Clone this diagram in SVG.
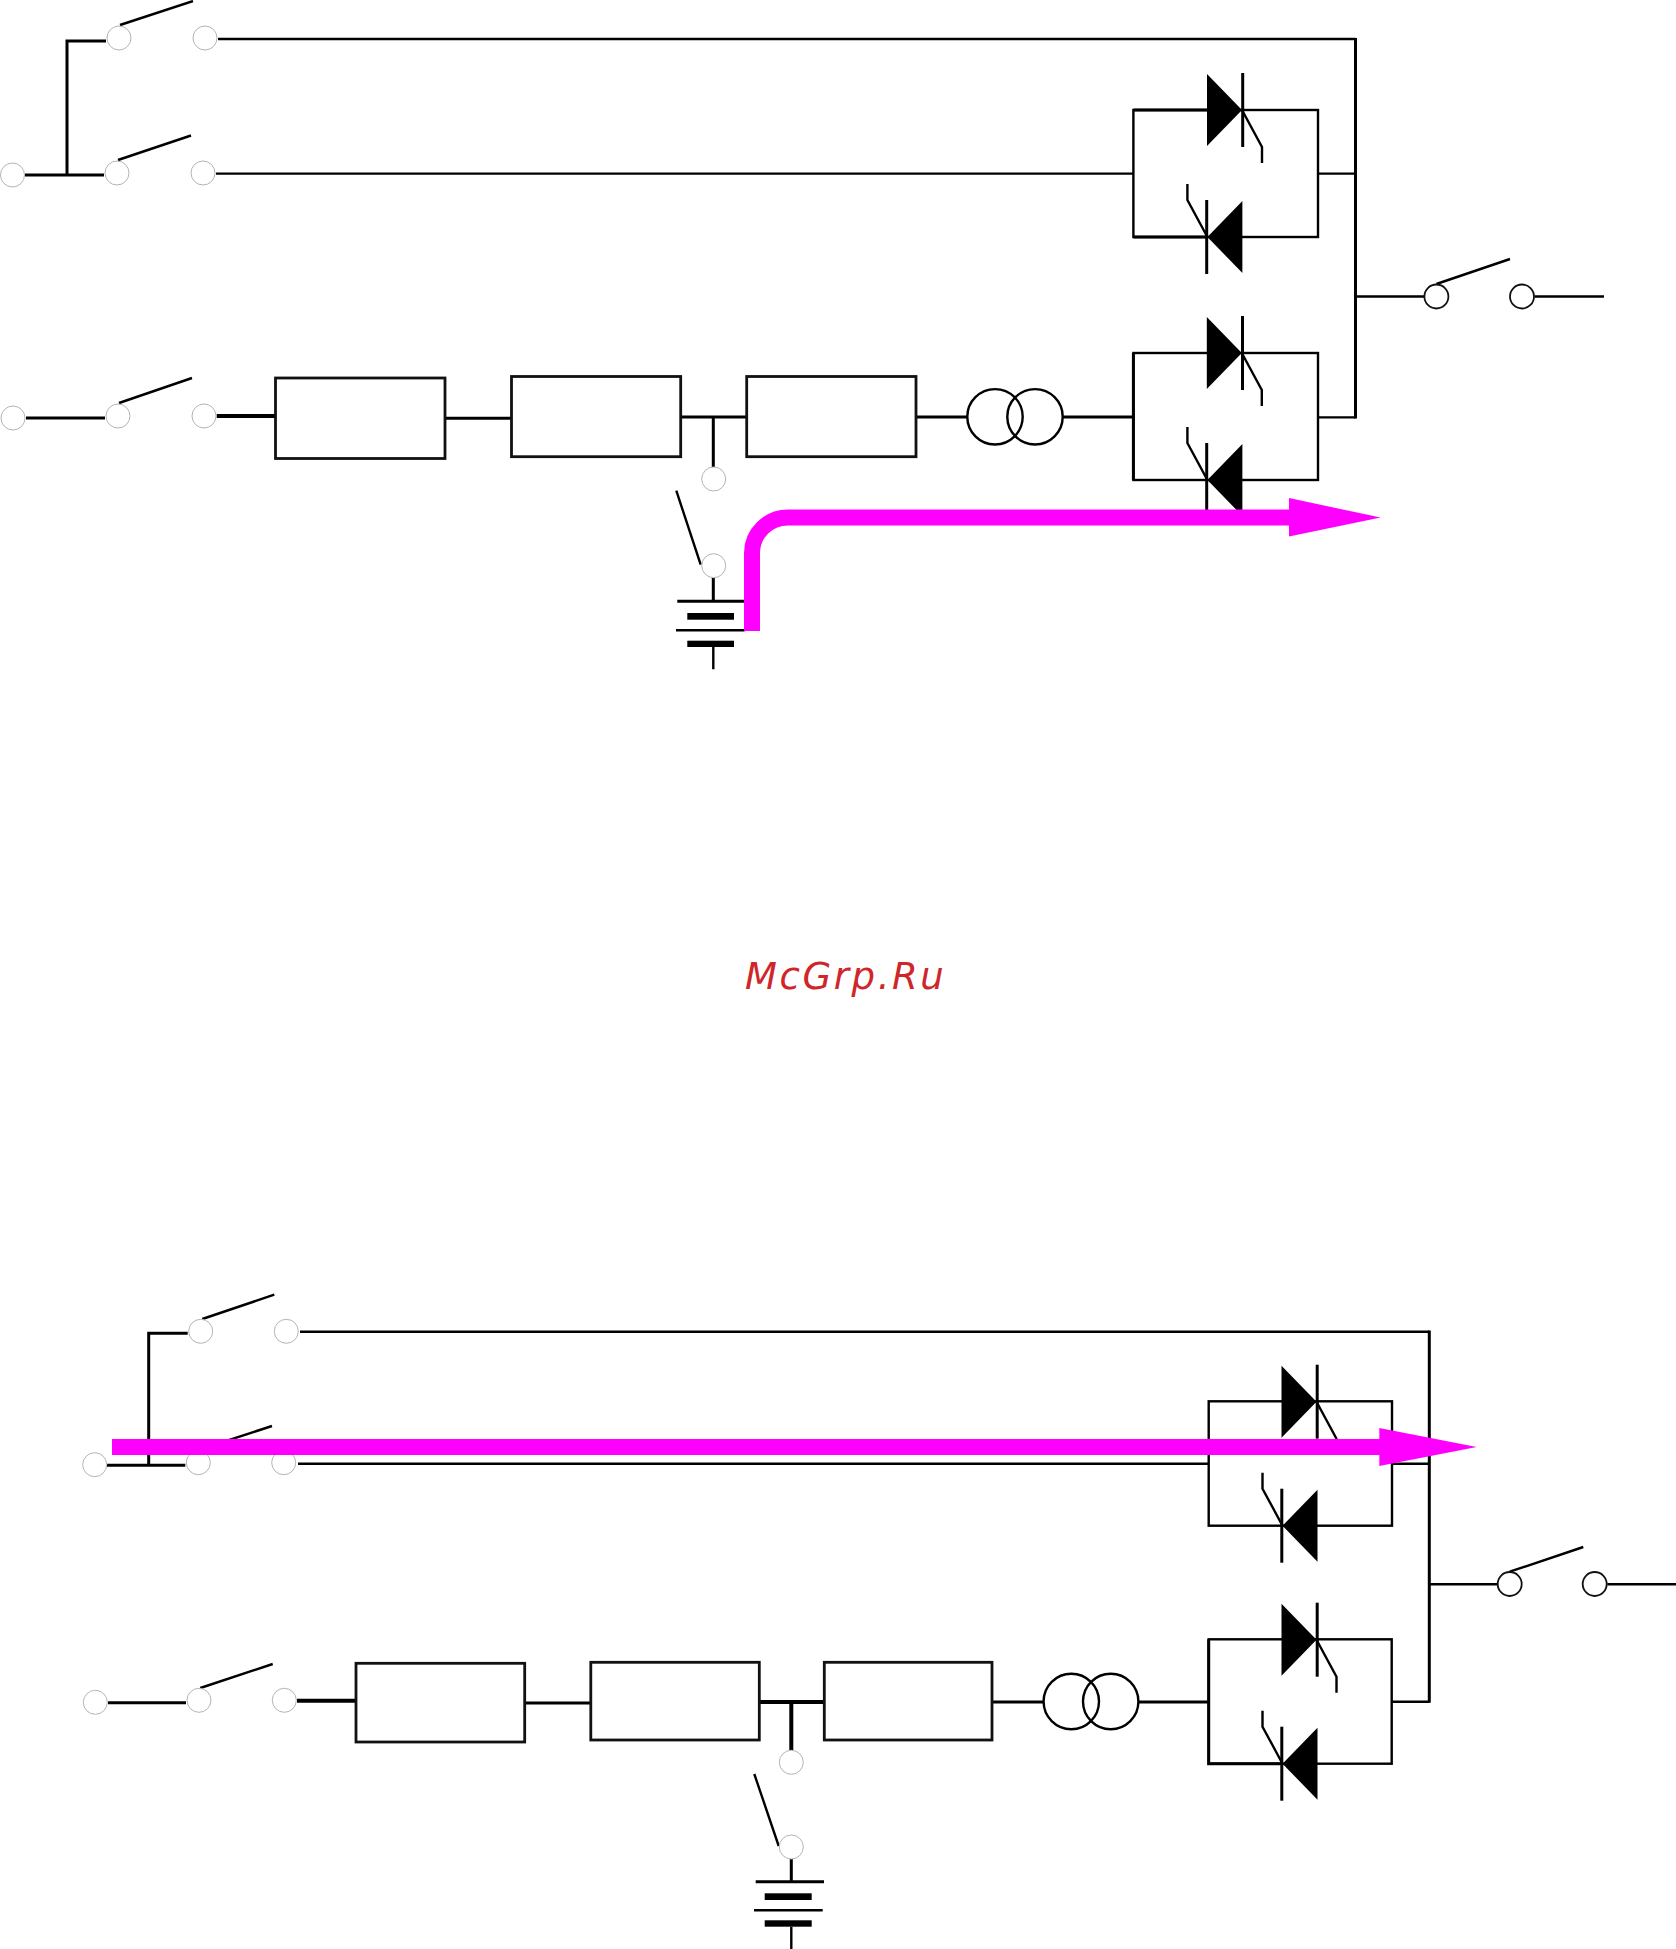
<svg xmlns="http://www.w3.org/2000/svg" xmlns:xlink="http://www.w3.org/1999/xlink" width="1676" height="1949" viewBox="0 0 1676 1949">
<style>
.w{fill:none;stroke:#000;stroke-width:2.4}
.t{fill:none;stroke:#000;stroke-width:3}
.h{fill:none;stroke:#000;stroke-width:4}
.box{fill:#fff;stroke:#111;stroke-width:2.8}
.pad{fill:#fff;stroke:#b4b4b4;stroke-width:1}
.out{fill:#fff;stroke:#111;stroke-width:1.8}
.fl{fill:none;stroke:#f0f;stroke-width:16}
.hd{fill:#f0f}
.bar{fill:#000}
.mark{font-family:"DejaVu Sans",sans-serif;font-style:oblique;font-size:37px;letter-spacing:2.6px;fill:#cf262b}
</style>
<defs>
<g id="thy"><polygon class="bar" points="-35,-36 -35,36 0,0"/><path class="t" d="M0.7,-37V37"/><path class="w" d="M0,0L20,37V53"/></g>
</defs>
<rect width="1676" height="1949" fill="#fff"/>
<g id="connectors">
<path class="t" d="M67,175V41H106M25,175H104"/>
<path class="w" d="M218,39H1355.5M216,173.6H1133M1318,173.6H1355.5M1318,417.4H1355.5M1356,296.5H1424M1534.5,296.5H1604"/>
<path class="t" d="M1355.5,38V418.5"/>
<path class="w" d="M120,25L193,1M118,160L191,135.5M119,403L192,378M1436.4,284L1510,259M700.7,564.7L676.3,490.7"/>
<path class="t" d="M26,418H105M446,418.3H511M681,417H746M713.3,417V467M713.3,578V601.3M677.3,601.3H744.3M916,417H967M1063,417H1133"/>
<path class="h" d="M216.7,416H275"/>
<path class="w" d="M676,630.3H744.7M713.3,647V669.3"/>
<rect class="bar" x="687.3" y="613" width="46.7" height="6.7"/>
<rect class="bar" x="687.3" y="640.7" width="46.7" height="6.3"/>
<path class="t" d="M148.7,1465.3V1333.3H187.7M107,1465.3H185.3"/>
<path class="w" d="M300,1331.7H1429.3M298,1463.7H1208.7M1392,1463.7H1429.3M1392,1701.7H1429.3M1430,1584.3H1497.3M1607.3,1584.3H1676"/>
<path class="t" d="M1429.3,1330.5V1702.8"/>
<path class="w" d="M202.3,1319L274.3,1294.7M200,1449.5L272,1426M200.3,1688L272.7,1664M1509.7,1571.7L1583.3,1547M778.7,1846L754.3,1774"/>
<path class="t" d="M108,1702.7H186M525,1703H590.4M791.3,1859V1881.7M755.7,1881.7H824M992,1702H1043.5M1138.5,1702H1208.7"/>
<path class="h" d="M297,1700.7H356M759.3,1702H824.3M791.3,1702V1750"/>
<path class="w" d="M754,1910.3H822.7M791.3,1926.7V1949"/>
<rect class="bar" x="764.7" y="1893.3" width="47" height="6.7"/>
<rect class="bar" x="764.7" y="1920.3" width="47" height="6.4"/>
</g>
<g id="top-pads">
<circle class="pad" cx="119" cy="38" r="12"/><circle class="pad" cx="205" cy="38" r="12"/>
<circle class="pad" cx="117" cy="173" r="12"/><circle class="pad" cx="203" cy="173" r="12"/>
<circle class="pad" cx="12.5" cy="175" r="12"/><circle class="pad" cx="13" cy="418" r="12"/>
<circle class="pad" cx="118" cy="416" r="12"/><circle class="pad" cx="204" cy="416" r="12"/>
<circle class="pad" cx="713.7" cy="479" r="12"/><circle class="pad" cx="713.7" cy="565.7" r="12"/>
<circle class="out" cx="1436.4" cy="296.5" r="12"/><circle class="out" cx="1522" cy="296.5" r="12"/>
</g>
<g id="top-blocks">
<rect class="box" x="275.5" y="378" width="169.5" height="80.5"/>
<rect class="box" x="511.5" y="376.5" width="169.2" height="80.2"/>
<rect class="box" x="746.7" y="376.5" width="169.3" height="80.2"/>
<circle cx="995" cy="416.8" r="27.7" class="w"/><circle cx="1035" cy="416.8" r="27.7" class="w"/>
</g>
<g id="top-thyristors">
<rect class="w" x="1133.4" y="110" width="184.6" height="127"/>
<rect class="w" x="1133.4" y="353" width="184.6" height="127"/>
<path class="t" d="M1133.4,110H1207M1133.4,237H1207M1133.4,353V480"/>
<use xlink:href="#thy" href="#thy" transform="translate(1242,110)"/>
<use xlink:href="#thy" href="#thy" transform="translate(1207.4,237) rotate(180)"/>
<use xlink:href="#thy" href="#thy" transform="translate(1241.8,353)"/>
<use xlink:href="#thy" href="#thy" transform="translate(1207.4,480) rotate(180)"/>
</g>
<g id="bottom-pads">
<circle class="pad" cx="200.7" cy="1331.3" r="12"/><circle class="pad" cx="286.3" cy="1331.3" r="12"/>
<circle class="pad" cx="198.3" cy="1462.7" r="12"/><circle class="pad" cx="283.7" cy="1462.7" r="12"/>
<circle class="pad" cx="94.7" cy="1464.7" r="12"/><circle class="pad" cx="95.3" cy="1702.3" r="12"/>
<circle class="pad" cx="199" cy="1700.3" r="12"/><circle class="pad" cx="284.3" cy="1700.3" r="12"/>
<circle class="pad" cx="791.3" cy="1762.3" r="12"/><circle class="pad" cx="791.3" cy="1847" r="12"/>
<circle class="out" cx="1509.7" cy="1584" r="12"/><circle class="out" cx="1594.7" cy="1584" r="12"/>
</g>
<g id="bottom-blocks">
<rect class="box" x="356" y="1663.3" width="168.7" height="78.7"/>
<rect class="box" x="590.8" y="1662.3" width="168.5" height="77.7"/>
<rect class="box" x="824.3" y="1662.3" width="167.7" height="77.7"/>
<circle cx="1071.3" cy="1701.5" r="27.7" class="w"/><circle cx="1110.7" cy="1701.5" r="27.7" class="w"/>
</g>
<g id="bottom-thyristors">
<rect class="w" x="1208.7" y="1401.3" width="183.3" height="124.4"/>
<rect class="w" x="1208.7" y="1639.3" width="183" height="124.4"/>
<path class="t" d="M1208.7,1639.3V1763.7H1282"/>
<use xlink:href="#thy" href="#thy" transform="translate(1316.5,1401.7)"/>
<use xlink:href="#thy" href="#thy" transform="translate(1282.5,1525.7) rotate(180)"/>
<use xlink:href="#thy" href="#thy" transform="translate(1316.5,1639.7)"/>
<use xlink:href="#thy" href="#thy" transform="translate(1282.5,1763.7) rotate(180)"/>
</g>
<g id="flow-arrows">
<path class="fl" d="M752,631V553A36,35.5 0 0 1 788,517.5H1290"/>
<polygon class="hd" points="1289,498 1380.6,517.6 1289,536.5"/>
<path class="fl" d="M112,1447H1380"/>
<polygon class="hd" points="1379.3,1428 1476.7,1447 1379.3,1466"/>
</g>
<text class="mark" x="745" y="989">McGrp.Ru</text>
</svg>
